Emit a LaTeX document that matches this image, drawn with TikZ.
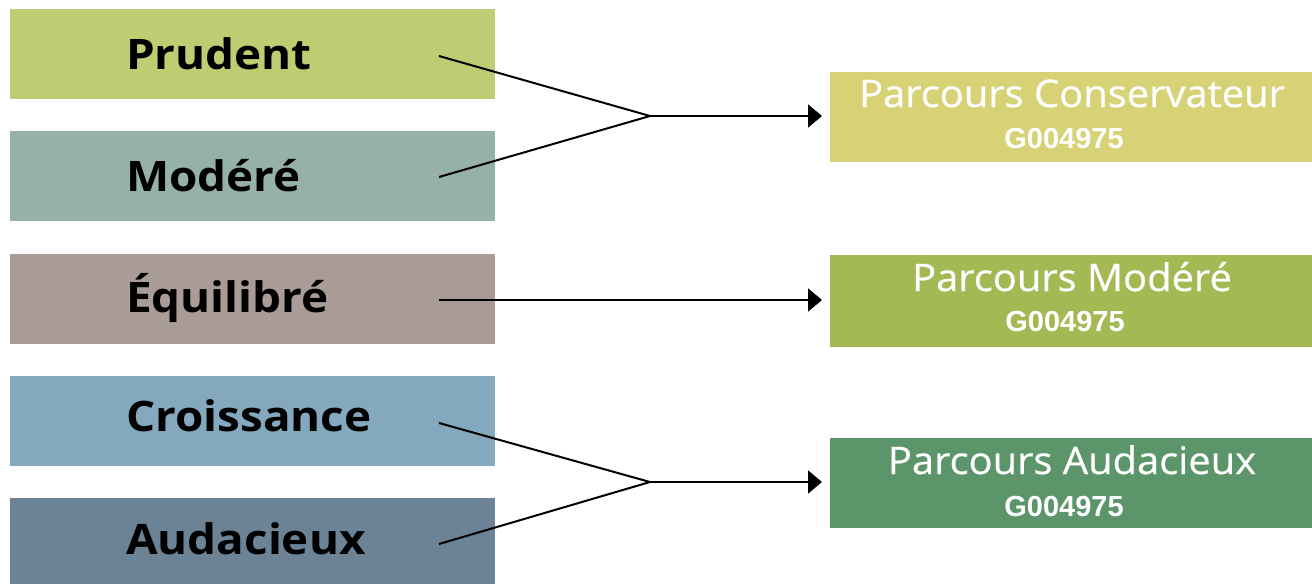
\documentclass[tikz,border=0pt]{standalone}
\usepackage{fontspec}
\setmainfont{Open Sans}
\newfontfamily\lfont[FakeStretch=1.09]{Open Sans}
\newfontfamily\tfont[FakeStretch=1.05,FakeBold=0.6]{Open Sans}
\newfontfamily\codefont{Liberation Sans}
\usetikzlibrary{arrows.meta}
\definecolor{cPru}{HTML}{BFCC72}
\definecolor{cMod}{HTML}{96B2A6}
\definecolor{cEqu}{HTML}{A99C97}
\definecolor{cCro}{HTML}{84A8BD}
\definecolor{cAud}{HTML}{6C8396}
\definecolor{rCons}{HTML}{D6D275}
\definecolor{rMod}{HTML}{A4B853}
\definecolor{rAud}{HTML}{5B9569}
\tikzset{
  lbox/.style={rectangle, draw=none, inner sep=0pt, anchor=north west, minimum width=485pt, minimum height=90pt},
  rbox/.style={rectangle, draw=none, inner sep=0pt, anchor=north west, minimum width=482pt, minimum height=90pt},
  ltext/.style={anchor=base west, inner sep=0pt, font=\lfont\bfseries\fontsize{42}{42}\selectfont, text=black},
  rtitle/.style={anchor=base, inner sep=0pt, font=\tfont\fontsize{38}{38}\selectfont, text=white},
  rcode/.style={anchor=base, inner sep=0pt, font=\codefont\fontsize{29}{29}\selectfont\bfseries, text=white},
  conn/.style={draw=black, line width=2pt},
  arr/.style={conn, -{Triangle[length=14pt,width=23pt]}}
}
\begin{document}
\begin{tikzpicture}[x=1pt,y=-1pt]
\useasboundingbox (0,0) rectangle (1312,584);
% left boxes
\node[lbox, fill=cPru] (pru) at (10,9) {};
\node[lbox, fill=cMod] (mod) at (10,131) {};
\node[lbox, fill=cEqu] (equ) at (10,253.5) {};
\node[lbox, fill=cCro] (cro) at (10,376) {};
\node[lbox, fill=cAud, minimum height=86pt] (aud) at (10,498) {};
\node[ltext] (pruT) at (126,69) {Prudent};
\node[ltext] (modT) at (126,191) {Modéré};
\node[ltext] (equT) at (126,312) {Équilibré};
\node[ltext] (croT) at (126,431) {Croissance};
\node[ltext] (audT) at (126,554) {Audacieux};
% right boxes
\node[rbox, fill=rCons] (rcons) at (830,72) {};
\node[rbox, fill=rMod, minimum height=92pt] (rmod) at (830,255) {};
\node[rbox, fill=rAud] (raud) at (830,438) {};
\node[rtitle] (rconsT) at (1072,107) {Parcours Conservateur};
\node[rcode] (rconsC) at (1064,148) {G004975};
\node[rtitle] (rmodT) at (1072,291) {Parcours Modéré};
\node[rcode] (rmodC) at (1065,331) {G004975};
\node[rtitle] (raudT) at (1072,474) {Parcours Audacieux};
\node[rcode] (raudC) at (1064,516) {G004975};
% connector points
\coordinate (sPru) at (439,56);
\coordinate (sMod) at (439,177);
\coordinate (sEqu) at (439,300);
\coordinate (sCro) at (439,423);
\coordinate (sAud) at (439,544);
\coordinate (j1) at (650,116);
\coordinate (j2) at (650,482);
\coordinate (t1) at (822,116);
\coordinate (t2) at (822,300);
\coordinate (t3) at (822,482);
\draw[conn] (sPru) -- (j1) -- (sMod);
\draw[arr] (j1) -- (t1);
\draw[arr] (sEqu) -- (t2);
\draw[conn] (sCro) -- (j2) -- (sAud);
\draw[arr] (j2) -- (t3);
\end{tikzpicture}
\end{document}
